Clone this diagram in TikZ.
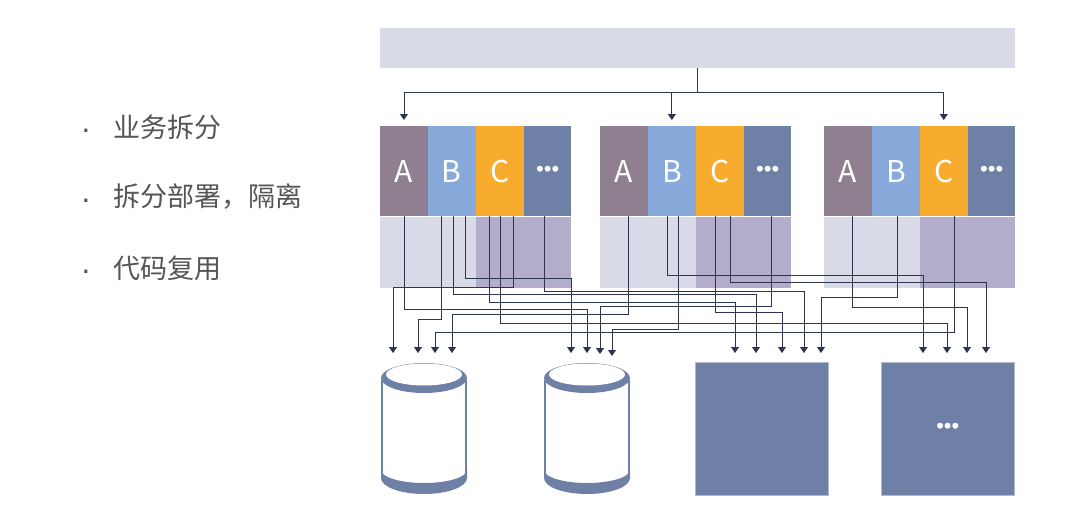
\documentclass[tikz,border=0pt]{standalone}
\usepackage{fontspec}
\setmainfont{Liberation Sans}
\newfontfamily\cjk{Noto Sans CJK SC}
\usetikzlibrary{arrows.meta,positioning}
\definecolor{colA}{HTML}{8F7F91}
\definecolor{colB}{HTML}{88AADB}
\definecolor{colC}{HTML}{F8AC2E}
\definecolor{colD}{HTML}{6E80A6}
\definecolor{lowlight}{HTML}{D8DAE8}
\definecolor{lowdark}{HTML}{B3ADCB}
\definecolor{barcol}{HTML}{D9DBE9}
\definecolor{wirecol}{HTML}{2E3550}
\definecolor{slate}{HTML}{6F80A6}
\definecolor{txtgray}{HTML}{555555}
\tikzstyle{col}=[rectangle,inner sep=0pt,minimum width=47.5pt,minimum height=90pt,
text=white,font=\cjk\fontsize{30}{32}\selectfont]
\tikzstyle{dots}=[font=\fontsize{22}{24}\selectfont]
\tikzstyle{low}=[rectangle,inner sep=0pt,minimum height=71pt,anchor=north west]
\tikzstyle{wire}=[draw=wirecol,line width=0.8pt]
\tikzstyle{tip}=[-{Triangle[width=8pt,length=6pt]}]
\tikzstyle{box}=[rectangle,inner sep=0pt,fill=slate,draw=slate!55!white,line width=0.6pt,
minimum width=133pt,minimum height=133pt,anchor=north west]
\tikzstyle{item}=[anchor=west,text=txtgray,font=\cjk\fontsize{27}{30}\selectfont]
\tikzstyle{bull}=[text=txtgray,font=\fontsize{32}{34}\selectfont]

\begin{document}
\begin{tikzpicture}[x=1pt,y=-1pt]
    \useasboundingbox (0,0) rectangle (1080,523);

    % bullet list
    \node[bull] (b1) at (86,134) {·};
    \node[item] (l1) at (110,127) {业务拆分};
    \node[bull] (b2) at (86,204) {·};
    \node[item] (l2) at (110,197) {拆分部署，隔离};
    \node[bull] (b3) at (86,275) {·};
    \node[item] (l3) at (110,268) {代码复用};

    % top bar
    \node[rectangle,inner sep=0pt,fill=barcol,minimum width=635pt,minimum height=40pt,
          anchor=north west] (bar) at (380,28) {};

    % service groups
    \node[col,fill=colA,anchor=north west] (g1a) at (380,126) {A};
    \node[col,fill=colB,right=0pt of g1a] (g1b) {B};
    \node[col,fill=colC,right=0pt of g1b] (g1c) {C};
    \node[col,fill=colD,right=0pt of g1c,dots] (g1d) {•••};
    \node[low,fill=lowlight,minimum width=190pt] (g1l) at (g1a.south west) {};
    \node[low,fill=lowdark,minimum width=95pt] (g1r) at (g1c.south west) {};

    \node[col,fill=colA,anchor=north west] (g2a) at (600,126) {A};
    \node[col,fill=colB,right=0pt of g2a] (g2b) {B};
    \node[col,fill=colC,right=0pt of g2b] (g2c) {C};
    \node[col,fill=colD,right=0pt of g2c,dots] (g2d) {•••};
    \node[low,fill=lowlight,minimum width=190pt] (g2l) at (g2a.south west) {};
    \node[low,fill=lowdark,minimum width=95pt] (g2r) at (g2c.south west) {};

    \node[col,fill=colA,anchor=north west] (g3a) at (824,126) {A};
    \node[col,fill=colB,right=0pt of g3a] (g3b) {B};
    \node[col,fill=colC,right=0pt of g3b] (g3c) {C};
    \node[col,fill=colD,right=0pt of g3c,dots] (g3d) {•••};
    \node[low,fill=lowlight,minimum width=190pt] (g3l) at (g3a.south west) {};
    \node[low,fill=lowdark,minimum width=95pt] (g3r) at (g3c.south west) {};

    % bar to groups
    \coordinate (hub) at (697,92);
    \draw[wire] (bar.south -| hub) -- (hub);
    \draw[wire,tip,shorten >=6pt] (hub) -| (g1a.north);
    \draw[wire,tip,shorten >=6pt] (hub) -| (g2b.north);
    \draw[wire,tip,shorten >=6pt] (hub) -| (g3c.north);

    % wire sources
    \coordinate (s1a) at (404,216);
    \coordinate (s1b1) at (441,216);
    \coordinate (s1b2) at (453,216);
    \coordinate (s1b3) at (465,216);
    \coordinate (s1c1) at (489,216);
    \coordinate (s1c2) at (500,216);
    \coordinate (s1c3) at (513,216);
    \coordinate (s1d) at (544,216);
    \coordinate (s2a) at (628,216);
    \coordinate (s2b1) at (667,216);
    \coordinate (s2b2) at (678,216);
    \coordinate (s2c1) at (715,216);
    \coordinate (s2c2) at (730,216);
    \coordinate (s2d) at (771,216);
    \coordinate (s3a) at (852,216);
    \coordinate (s3b) at (897,216);
    \coordinate (s3c) at (954,216);

    % wire targets
    \coordinate (d1) at (393,353);
    \coordinate (d2) at (418,353);
    \coordinate (d3) at (435,353);
    \coordinate (d4) at (452,353);
    \coordinate (e1) at (571,353);
    \coordinate (e2) at (587,353);
    \coordinate (e3) at (600,354);
    \coordinate (e4) at (612,356);
    \coordinate (f1) at (735,353);
    \coordinate (f2) at (756,353);
    \coordinate (f3) at (782,353);
    \coordinate (f4) at (804,353);
    \coordinate (f5) at (821,353);
    \coordinate (h1) at (923,353);
    \coordinate (h2) at (947,353);
    \coordinate (h3) at (967,353);
    \coordinate (h4) at (986,353);

    % wires
    \draw[wire,tip] (s1a) |- (e2 |- 0,309) -- (e2);
    \draw[wire,tip] (s1b1) |- (d2 |- 0,319) -- (d2);
    \draw[wire,tip] (s1b2) |- (f2 |- 0,294) -- (f2);
    \draw[wire,tip] (s1b3) |- (e1 |- 0,278) -- (e1);
    \draw[wire,tip] (s1c1) |- (f1 |- 0,302) -- (f1);
    \draw[wire,tip] (s1c2) |- (h2 |- 0,323) -- (h2);
    \draw[wire,tip] (s1c3) |- (d1 |- 0,287) -- (d1);
    \draw[wire,tip] (s1d) |- (f4 |- 0,291) -- (f4);
    \draw[wire,tip] (s2a) |- (d4 |- 0,314) -- (d4);
    \draw[wire,tip] (s2b1) |- (h1 |- 0,275) -- (h1);
    \draw[wire,tip] (s2b2) |- (e4 |- 0,329) -- (e4);
    \draw[wire,tip] (s2c1) |- (f3 |- 0,312) -- (f3);
    \draw[wire,tip] (s2c2) |- (h4 |- 0,282) -- (h4);
    \draw[wire,tip] (s2d) |- (e3 |- 0,306) -- (e3);
    \draw[wire,tip] (s3a) |- (h3 |- 0,307) -- (h3);
    \draw[wire,tip] (s3b) |- (f5 |- 0,297) -- (f5);
    \draw[wire,tip] (s3c) |- (d3 |- 0,332) -- (d3);

    % storage
    \foreach \cx in {424,587} {
        \draw[slate,line width=1.6pt] (\cx-42,380) -- (\cx-42,476) (\cx+42,380) -- (\cx+42,476);
        \fill[slate] (\cx,378) ellipse [x radius=43,y radius=15];
        \fill[white] (\cx,374.5) ellipse [x radius=38,y radius=11];
        \fill[slate] (\cx-43,470) arc[start angle=180,end angle=0,x radius=43,y radius=13]
            -- (\cx+43,478) arc[start angle=0,end angle=180,x radius=43,y radius=16] -- cycle;
    }
    \node[box] (sq1) at (695,362) {};
    \node[box,text=white,dots] (sq2) at (881,362) {•••};

\end{tikzpicture}
\end{document}
